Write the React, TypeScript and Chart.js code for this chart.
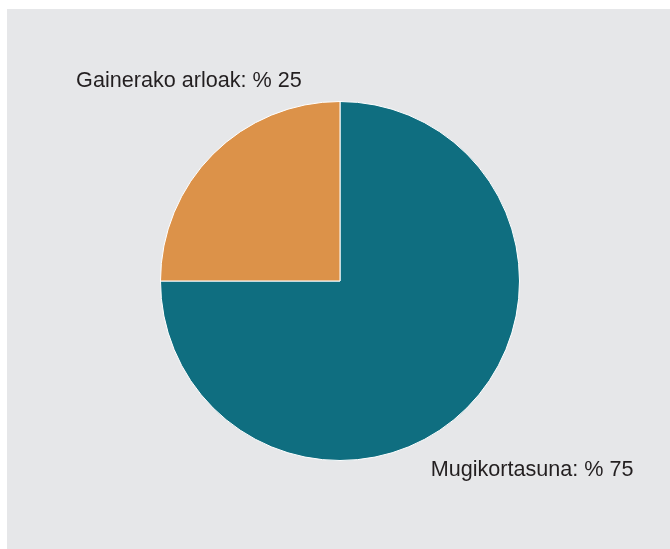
import React, { useEffect, useRef } from "react";
import { Chart, registerables } from "chart.js";

Chart.register(...registerables);

const categories = ["Mugikortasuna", "Gainerako arloak"];
const values = [75, 25];
const colors = ["#0f6e80", "#dc9249"];
const labelTexts = ["Mugikortasuna: % 75", "Gainerako arloak: % 25"];

const labelPlugin = {
  id: "sliceLabels",
  afterDatasetsDraw(chart: any) {
    const meta = chart.getDatasetMeta(0);
    const arc = meta.data[0];
    if (!arc) return;
    const { x, y, outerRadius } = arc.getProps(["x", "y", "outerRadius"], true);
    const ctx = chart.ctx;
    ctx.save();
    ctx.font = '21.6px "Liberation Sans", Arial, sans-serif';
    ctx.fillStyle = "#231f20";
    ctx.textBaseline = "alphabetic";
    const r = outerRadius;
    // label for first slice (bottom-right)
    ctx.textAlign = "left";
    ctx.fillText(labelTexts[0], x + r * 0.505, y + r * 1.089);
    // label for second slice (top-left)
    ctx.textAlign = "right";
    ctx.fillText(labelTexts[1], x - r * 0.213, y - r * 1.078);
    ctx.restore();
  },
};

export default function App() {
  const ref = useRef<HTMLCanvasElement | null>(null);
  useEffect(() => {
    if (!ref.current) return;
    const chart = new Chart(ref.current, {
      type: "pie",
      data: {
        labels: categories,
        datasets: [
          {
            data: values,
            backgroundColor: colors,
            borderColor: "#ffffff",
            borderWidth: 1,
          },
        ],
      },
      options: {
        animation: false,
        responsive: false,
        layout: { padding: { top: 92, bottom: 88, left: 153, right: 150 } },
        plugins: {
          legend: { display: false },
          tooltip: { enabled: false },
        },
      },
      plugins: [labelPlugin],
    });
    return () => chart.destroy();
  }, []);
  return (
    <div
      style={{
        position: "absolute",
        left: 7,
        top: 9,
        width: 663,
        height: 540,
        background: "#e6e7e9",
      }}
    >
      <canvas ref={ref} width={663} height={540} style={{ display: "block" }} />
    </div>
  );
}
